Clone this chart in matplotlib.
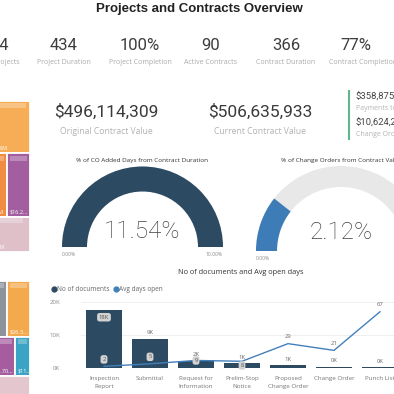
import matplotlib
matplotlib.use("Agg")
import matplotlib.pyplot as plt
from matplotlib.patches import Wedge, Rectangle
from matplotlib.lines import Line2D
import numpy as np

# ---------------- data ----------------
title = "Projects and Contracts Overview"
kpi_values = ["14", "434", "100%", "90", "366", "77%"]
kpi_labels = ["Active Projects", "Project Duration", "Project Completion",
              "Active Contracts", "Contract Duration", "Contract Completion"]
card_values = [496114309, 506635933]
card_labels = ["Original Contract Value", "Current Contract Value"]
side_values = [358875146, 10624219]
side_labels = ["Payments to Date", "Change Orders Value"]
gauge_titles = ["% of CO Added Days from Contract Duration",
                "% of Change Orders from Contract Value"]
gauge_values = [11.54, 2.12]
gauge_max = [10.0, 10.0]
combo_title = "No of documents and Avg open days"
series_names = ["No of documents", "Avg days open"]
categories = ["Inspection\nReport", "Submittal", "Request for\nInformation",
              "Prelim-Stop\nNotice", "Proposed\nChange Order", "Change Order", "Punch List"]
doc_counts = [17700, 8800, 2100, 1400, 800, 300, 200]
avg_days = [2, 5, 9, 8, 29, 21, 67]
tree_top_values = [[59.59, 27.08], [70.33, 20.10, 16.24], [38.80, 19.53]]
tree_bot_values = [[93.70, 51.40, 26.30], [86.80, 20.70, 11.90], [67.30]]

# ---------------- styles ----------------
W = H = 394
fig = plt.figure(figsize=(W / 100, H / 100), dpi=100)
fig.patch.set_facecolor("white")
NUM_FONT = ["Roboto", "DejaVu Sans"]
LAB_FONT = ["Open Sans", "DejaVu Sans"]
DARK = "#2C4A62"
BLUE = "#4280BC"
tree_top_colors = [["#4A7FB8", "#F6AD55"], ["#6C93C4", "#F28C42", "#A35E9F"], ["#8AA5C9", "#DFC0C9"]]
tree_bot_colors = [["#4A7FB8", "#8D939C", "#F5A94D"], ["#E7796B", "#A55DA0", "#3BA3C3"], ["#E3C6CE"]]
line_label_side = ["above", "above", "on", "below", "above", "above", "above"]


def fy(y):
    return 1 - y / H


def px_axes(x0, y0, x1, y1, off=True):
    ax = fig.add_axes([x0 / W, 1 - y1 / H, (x1 - x0) / W, (y1 - y0) / H])
    if off:
        ax.set_axis_off()
    return ax


# ---------------- title ----------------
fig.text(199 / W, fy(9), title, ha="center", va="center", fontsize=9.5,
         fontweight="bold", family=["Liberation Sans", "DejaVu Sans"], color="#222222")

# ---------------- KPI row ----------------
kpi_x = [0, 64, 140, 211, 286, 356]
kpi_lab_x = [-4, 64, 140, 211, 286, 363]
for xc, xl, v, lab in zip(kpi_x, kpi_lab_x, kpi_values, kpi_labels):
    fig.text(xc / W, fy(46), v, ha="center", va="center", fontsize=12,
             family=NUM_FONT, color="#3d3d3d")
    fig.text(xl / W, fy(62), lab, ha="center", va="center", fontsize=5.0,
             family=LAB_FONT, color="#ababab")

# ---------------- cards ----------------
card_x = [106, 260]
for xc, v, lab in zip(card_x, card_values, card_labels):
    fig.text(xc / W, fy(112), f"${v:,}", ha="center", va="center", fontsize=12.5,
             family=NUM_FONT, color="#3a3a3a")
    fig.text(xc / W, fy(132), lab, ha="center", va="center", fontsize=6.2,
             family=LAB_FONT, color="#b2b2b2")

fig.add_artist(Line2D([349 / W, 349 / W], [fy(91), fy(139)], color="#5DB88E", lw=1.5))
for i, (v, lab) in enumerate(zip(side_values, side_labels)):
    y0 = 97 + 26 * i
    fig.text(356 / W, fy(y0), f"${v:,}", ha="left", va="center", fontsize=6.8,
             family=NUM_FONT, color="#444444")
    fig.text(356 / W, fy(y0 + 12), lab, ha="left", va="center", fontsize=5,
             family=LAB_FONT, color="#b5b5b5")


# ---------------- treemaps ----------------
def treemap(x0, y0, x1, y1, rows, colors):
    ax = px_axes(x0, y0, x1, y1)
    total = sum(sum(r) for r in rows)
    ax.set_xlim(0, 1)
    ax.set_ylim(total, 0)
    wpx = x1 - x0
    ytop = 0
    for row, cols in zip(rows, colors):
        rs = sum(row)
        xl = 0
        for v, c in zip(row, cols):
            w = v / rs
            ax.add_patch(Rectangle((xl, ytop), w, rs, facecolor=c, edgecolor="white", lw=1.3))
            # blurred category header
            ax.add_patch(Rectangle((xl + 3 / wpx, ytop + rs * 0.04), min(w - 6 / wpx, 40 / wpx),
                                   total * 5 / (y1 - y0), facecolor="white", alpha=0.28, lw=0))
            label = f"${v:.2f}M"
            n = int((w * wpx - 3) / 3.6)
            if len(label) > n:
                label = label[:max(n, 1)] + "..."
            ax.annotate(label, xy=(xl, ytop + rs), xytext=(2, 2), textcoords="offset points",
                        fontsize=4, color="white", ha="left", va="bottom", family=LAB_FONT)
            xl += w
        ytop += rs


treemap(-120, 101, 30, 252, tree_top_values, tree_top_colors)
treemap(-120, 281, 30, 398, tree_bot_values, tree_bot_colors)


# ---------------- gauges ----------------
def gauge(cx, cy, R, thick, value, vmax, color, ttl, text_y):
    ax = px_axes(cx - R, cy - R, cx + R, cy + 12)
    ax.set_xlim(-R, R)
    ax.set_ylim(-12, R)
    ax.add_patch(Wedge((0, 0), R, 0, 180, width=thick, facecolor="#E8E8E8", lw=0, clip_on=False))
    frac = min(value / vmax, 1.0)
    ax.add_patch(Wedge((0, 0), R, 180 - 180 * frac, 180, width=thick, facecolor=color,
                       lw=0, clip_on=False))
    ax.text(0, cy - text_y, f"{value:.2f}%", ha="center", va="center", fontsize=17.5,
            family=NUM_FONT, fontweight="light", color="#404040")
    ax.text(-R, -7, "0.00%", ha="left", va="center", fontsize=3.6, color="#8a8a8a",
            family=LAB_FONT, clip_on=False)
    ax.text(R, -7, f"{vmax:.2f}%", ha="right", va="center", fontsize=3.6, color="#8a8a8a",
            family=LAB_FONT, clip_on=False)
    fig.text(cx / W, fy(161), ttl, ha="center", va="center", fontsize=4.6,
             family=LAB_FONT, color="#333333")


gauge(142.5, 247, 80.5, 25, gauge_values[0], gauge_max[0], DARK, gauge_titles[0], 232)
gauge(341, 251, 85, 21, gauge_values[1], gauge_max[1], "#3E7CB8", gauge_titles[1], 233)

# ---------------- combo chart ----------------
fig.text(241 / W, fy(273), combo_title, ha="center", va="center", fontsize=5.3,
         family=LAB_FONT, color="#333333")

ax = px_axes(81, 302, 403, 368, off=False)
x = np.arange(len(categories))
ymax1 = 20000
ymax2 = 78.6
ax.bar(x, doc_counts, width=0.78, color=DARK, zorder=2)
ax.set_xlim(-0.5, len(categories) - 0.5)
ax.set_ylim(0, ymax1)
ax.set_yticks([0, 10000, 20000])
ax.set_yticklabels(["0K", "10K", "20K"])
ax.set_xticks(x)
ax.set_xticklabels(categories, linespacing=1.9)
ax.grid(axis="y", color="#ececec", lw=0.6, zorder=0)
for s in ax.spines.values():
    s.set_visible(False)
ax.tick_params(axis="y", length=0, labelsize=4.4, labelcolor="#8a8a8a", pad=15)
ax.tick_params(axis="x", length=0, labelsize=4.5, labelcolor="#777777", pad=5.5)
for lab in ax.get_xticklabels() + ax.get_yticklabels():
    lab.set_family(LAB_FONT)

box = dict(boxstyle="round,pad=0.3,rounding_size=0.4", facecolor="#d2d2d2", edgecolor="none")
for xi, v in zip(x, doc_counts):
    txt = f"{v / 1000:.0f}K"
    if v > 0.75 * ymax1:
        ax.annotate(txt, xy=(xi, v), xytext=(0, -5.5), textcoords="offset points",
                    ha="center", va="center", fontsize=4.2, color="#555555",
                    bbox=box, family=LAB_FONT)
    else:
        ax.annotate(txt, xy=(xi, v), xytext=(0, 4.5), textcoords="offset points",
                    ha="center", va="center", fontsize=4.2, color="#666666", family=LAB_FONT)

ax2 = ax.twinx()
ax2.set_ylim(0, ymax2)
ax2.set_axis_off()
ax2.plot(x, avg_days, color=BLUE, lw=1.0, zorder=3)
px_per_pt = 100 / 72
plot_h = 368 - 302
side_dy = {"above": 5.0, "on": 0.0, "below": -3.0}
for xi, v, side, bv in zip(x, avg_days, line_label_side, doc_counts):
    dy = side_dy[side]
    # label centre in pixels above the baseline, to know whether it sits on the bar
    lab_px = v / ymax2 * plot_h + dy * px_per_pt
    inside = lab_px - 2 < bv / ymax1 * plot_h
    kw = dict(bbox=box, color="#555555") if inside else dict(color="#666666")
    ax2.annotate(f"{v}", xy=(xi, v), xytext=(0, dy), textcoords="offset points",
                 ha="center", va="center", fontsize=4.2, family=LAB_FONT, zorder=4, **kw)

handles = [Line2D([], [], marker="o", ls="", color=DARK, markersize=3.5),
           Line2D([], [], marker="o", ls="", color=BLUE, markersize=3.5)]
fig.legend(handles, series_names, loc="upper left", bbox_to_anchor=(51 / W, fy(286)),
           ncol=2, frameon=False, handletextpad=0.05, columnspacing=0.5,
           handlelength=0.9, borderaxespad=0, borderpad=0,
           labelcolor="#666666", prop={"family": LAB_FONT, "size": 4.7})

fig.savefig("out.png", dpi=100, facecolor="white")
